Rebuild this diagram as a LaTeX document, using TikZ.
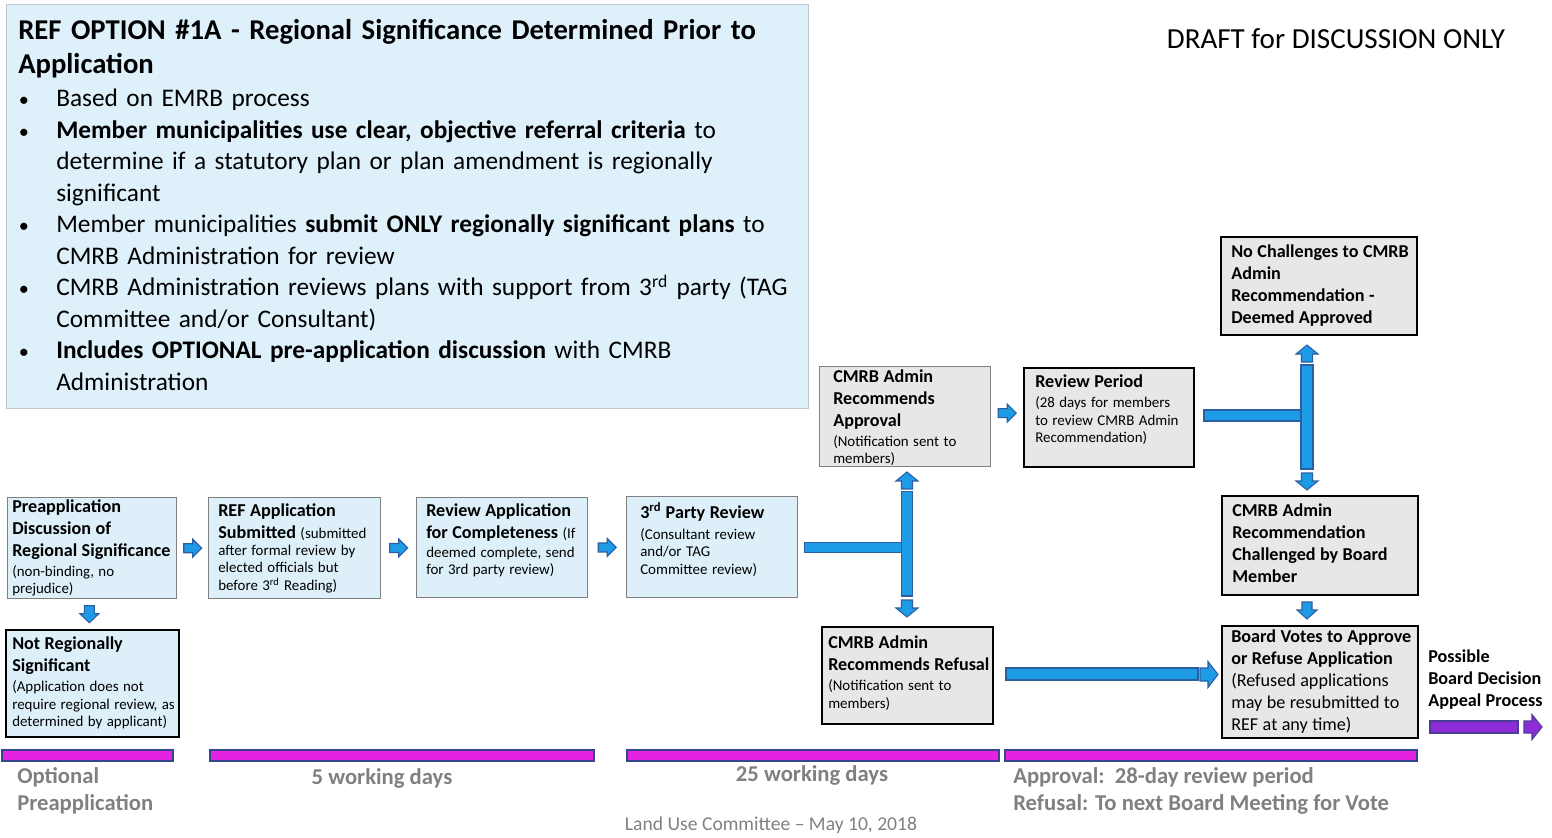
\documentclass[tikz,border=0pt]{standalone}
\usepackage{fontspec}
\setmainfont{Carlito}
\usetikzlibrary{calc}
\setlength{\parindent}{0pt}
\definecolor{boxblue}{RGB}{221,240,249}
\definecolor{topblue}{RGB}{222,241,250}
\definecolor{topline}{RGB}{190,200,205}
\definecolor{boxgray}{RGB}{231,231,231}
\definecolor{bordergray}{RGB}{128,128,128}
\definecolor{arrfill}{RGB}{30,155,230}
\definecolor{arrline}{RGB}{45,95,160}
\definecolor{purp}{RGB}{140,45,215}
\definecolor{purpline}{RGB}{75,60,150}
\definecolor{mag}{RGB}{228,35,225}
\definecolor{magline}{RGB}{55,70,140}
\definecolor{labgray}{RGB}{128,128,128}
\newcommand\boxbold{\fontsize{13.6pt}{16.5pt}\selectfont\bfseries}
\newcommand\boxsmall{\fontsize{11.2pt}{13.1pt}\selectfont\mdseries}
\newcommand\mkbox[5]{\node[#1, minimum width=#4*0.75pt, minimum height=#5*0.75pt] (#2) at (#3) {};}
\newcommand\barrow[7]{\draw[#1, shift={(#2)}, rotate=#3] ({-(#4)/2},{-(#6)/2}) -- ({(#4)/2-(#7)},{-(#6)/2}) -- ({(#4)/2-(#7)},{-(#5)/2}) -- ({(#4)/2},0) -- ({(#4)/2-(#7)},{(#5)/2}) -- ({(#4)/2-(#7)},{(#6)/2}) -- ({-(#4)/2},{(#6)/2}) -- cycle;}
\newcommand\bul{\hangindent=25.5pt\hangafter=1\makebox[25.5pt][l]{\hspace{-2.5pt}\scalebox{0.8}{\textbullet}}}
\begin{document}
\begin{tikzpicture}[x=0.75pt,y=-0.75pt,line join=miter,
  bluebox/.style={draw=bordergray, line width=1.1pt, fill=boxblue, anchor=north west, inner sep=0pt},
  bluebk/.style={draw=black, line width=1.5pt, fill=boxblue, anchor=north west, inner sep=0pt},
  graybox/.style={draw=bordergray, line width=1.1pt, fill=boxgray, anchor=north west, inner sep=0pt},
  graybk/.style={draw=black, line width=1.5pt, fill=boxgray, anchor=north west, inner sep=0pt},
  txt/.style={anchor=north west, inner sep=0pt, align=left, text width=180pt},
  blk/.style={fill=arrfill, draw=arrline, line width=0.8pt},
  pblk/.style={fill=purp, draw=purpline, line width=0.8pt},
  magbar/.style={fill=mag, draw=magline, line width=0.9pt},
  lab/.style={text=labgray, font={\fontsize{17pt}{20.25pt}\selectfont\bfseries}, inner sep=0pt, align=left}
]
\useasboundingbox (0,0) rectangle (1552,838);

% intro box
\node[draw=topline, line width=0.8pt, fill=topblue, anchor=north west, inner sep=0pt,
  minimum width=802*0.75pt, minimum height=404*0.75pt] (intro) at (6,4) {};
\node[anchor=north west, inner sep=0pt, text width=600pt, align=left,
  font={\fontsize{21.5pt}{25.5pt}\selectfont\bfseries}] (title) at (18,19)
  {REF OPTION \#1A - Regional Significance Determined Prior to\newline Application};
\node[anchor=north west, inner sep=0pt, text width=600pt, align=left,
  font={\fontsize{19pt}{23.6pt}\selectfont}] (bullets) at (22,89) {%
\bul Based on EMRB process\par
\bul\textbf{Member municipalities use clear, objective referral criteria} to\newline determine if a statutory plan or plan amendment is regionally\newline significant\par
\bul Member municipalities \textbf{submit ONLY regionally significant plans} to\newline CMRB Administration for review\par
\bul CMRB Administration reviews plans with support from 3\textsuperscript{rd} party (TAG\newline Committee and/or Consultant)\par
\bul\textbf{Includes OPTIONAL pre-application discussion} with CMRB\newline Administration\par};

\node[font={\fontsize{21.8pt}{26pt}\selectfont}, inner sep=0pt] (draft) at (1336,39) {DRAFT for DISCUSSION ONLY};

% boxes
\mkbox{bluebox}{pre}{7,497}{169}{101}
\mkbox{bluebk}{notreg}{5,629}{173}{107}
\mkbox{bluebox}{ref}{208,497}{172}{101}
\mkbox{bluebox}{rev}{416,497}{171}{100}
\mkbox{bluebox}{third}{626,496}{171}{101}
\mkbox{graybox}{appr}{819,366}{171}{100}
\mkbox{graybk}{period}{1023,367}{170}{99}
\mkbox{graybk}{nochal}{1220,236}{196}{98}
\mkbox{graybk}{chal}{1221,495}{196}{99}
\mkbox{graybk}{vote}{1221,625}{196}{112}
\mkbox{graybk}{refusal}{821,626}{171}{97}

% box texts
\node[txt] (preT) at ($(pre.north west)+(5,2)$) {{\boxbold Preapplication\\Discussion of\\Regional Significance\par}\vspace{1.9pt}{\boxsmall (non-binding, no\\prejudice)\par}};
\node[txt] (notregT) at ($(notreg.north west)+(7,8)$) {{\boxbold Not Regionally\\Significant\par}\vspace{1.9pt}{\boxsmall (Application does not\\require regional review, as\\determined by applicant)\par}};
\node[txt] (refT) at ($(ref.north west)+(10,6)$) {{\boxbold REF Application\par}\vspace{3.4pt}{\boxsmall{\boxbold Submitted} (submitted\\after formal review by\\elected officials but\\before 3\textsuperscript{rd} Reading)\par}};
\node[txt] (revT) at ($(rev.north west)+(10,6)$) {{\boxbold Review Application\par}\vspace{3.4pt}{\boxsmall{\boxbold for Completeness} (If\\[1.5pt]deemed complete, send\\for 3rd party review)\par}};
\node[txt] (thirdT) at ($(third.north west)+(14,6)$) {{\boxbold 3\textsuperscript{rd} Party Review\par}\vspace{2.6pt}{\boxsmall (Consultant review\\and/or TAG\\Committee review)\par}};
\node[txt] (apprT) at ($(appr.north west)+(14,4)$) {{\boxbold CMRB Admin\\Recommends\\Approval\par}\vspace{1.2pt}{\boxsmall (Notification sent to\\members)\par}};
\node[txt] (periodT) at ($(period.north west)+(12,8)$) {{\boxbold Review Period\par}\vspace{1.9pt}{\boxsmall (28 days for members\\to review CMRB Admin\\Recommendation)\par}};
\node[txt] (nochalT) at ($(nochal.north west)+(11,9)$) {{\boxbold No Challenges to CMRB\\Admin\\Recommendation -\\Deemed Approved\par}};
\node[txt] (chalT) at ($(chal.north west)+(11,9)$) {{\boxbold CMRB Admin\\Recommendation\\Challenged by Board\\Member\par}};
\node[txt] (voteT) at ($(vote.north west)+(10,5)$) {{\boxbold Board Votes to Approve\\or Refuse Application\\\mdseries (Refused applications\\may be resubmitted to\\REF at any time)\par}};
\node[txt] (refusalT) at ($(refusal.north west)+(7,10)$) {{\boxbold CMRB Admin\\Recommends Refusal\par}\vspace{1.9pt}{\boxsmall (Notification sent to\\members)\par}};
\node[txt] (appeal) at (1428,650) {{\boxbold Possible\\Board Decision\\Appeal Process\par}};

% small block arrows
\coordinate (a1) at ($(pre.east)!0.5!(ref.west)$);
\coordinate (a2) at ($(ref.east)!0.5!(rev.west)$);
\coordinate (a3) at ($(rev.east)!0.5!(third.west)$);
\coordinate (a4) at ($($(pre.south)!0.5!(notreg.north)$)+(-3,0)$);
\coordinate (a5) at ($($(appr.east)!0.5!(period.west)$)+(0,-4)$);
\barrow{blk}{a1}{0}{18}{18}{9}{9}
\barrow{blk}{a2}{0}{18}{18}{9}{9}
\barrow{blk}{a3}{0}{18}{18}{9}{9}
\barrow{blk}{a4}{-90}{17}{19}{10}{9}
\barrow{blk}{a5}{0}{18}{18}{9}{9}

% T connector 1
\coordinate (j1) at ($(third.east)+(108.5,0)$);
\filldraw[blk] ($(third.east)+(6,-5)$) rectangle ($(j1)+(-5,5)$);
\filldraw[blk] ($(j1 |- appr.south)+(-5.5,24)$) rectangle ($(j1 |- refusal.north)+(5.5,-30)$);
\coordinate (u1) at ($(j1 |- appr.south)+(0,13)$);
\coordinate (d1) at ($(j1 |- refusal.north)+(0,-17.5)$);
\barrow{blk}{u1}{90}{17}{22}{11}{9}
\barrow{blk}{d1}{-90}{17}{22}{11}{9}

% T connector 2
\coordinate (j2) at ($(period.east)+(112,-2)$);
\filldraw[blk] ($(period.east)+(9,-7.5)$) rectangle ($(j2)+(-6,5.5)$);
\filldraw[blk] ($(j2 |- nochal.south)+(-6,29)$) rectangle ($(j2 |- chal.north)+(6,-26)$);
\coordinate (u2) at ($(j2 |- nochal.south)+(0,17.5)$);
\coordinate (d2) at ($(j2 |- chal.north)+(0,-13.5)$);
\barrow{blk}{u2}{90}{17}{22}{11}{9}
\barrow{blk}{d2}{-90}{17}{22}{11}{9}
\coordinate (d3) at ($(j2 |- chal.south)!0.5!(j2 |- vote.north)$);
\barrow{blk}{d3}{-90}{17}{20}{10}{9}

% long arrow refusal -> vote
\filldraw[blk] ($(refusal.east)+(12,-7.5)$) rectangle ($(refusal.east -| vote.west)+(-23,4.5)$);
\coordinate (h1) at ($(refusal.east -| vote.west)+(-12,-1)$);
\barrow{blk}{h1}{0}{18}{26}{13}{10}

% purple appeal arrow
\filldraw[pblk] ($(vote.south east)+(11,-18)$) rectangle ($(vote.south east)+(99,-6)$);
\coordinate (h2) at ($(vote.south east)+(114,-12)$);
\barrow{pblk}{h2}{0}{18}{25}{12}{10}

% timeline bars
\filldraw[magbar] (2,750) rectangle (173,761);
\filldraw[magbar] (210,750) rectangle (594,761);
\filldraw[magbar] (627,750) rectangle (999,761);
\filldraw[magbar] (1005,750) rectangle (1417,761);

% timeline labels
\node[lab, anchor=north west] (optl) at (17,767) {Optional\\Preapplication};
\node[lab, anchor=north] (fivel) at (382,768) {5 working days};
\node[lab, anchor=north] (twfl) at (812,765) {25 working days};
\node[lab, anchor=north west] (appl) at (1013,767) {Approval:\ \ 28-day review period\\Refusal: To next Board Meeting for Vote};
\node[text=labgray, font={\fontsize{14.7pt}{17pt}\selectfont}, anchor=north, inner sep=0pt] (foot) at (771,817) {Land Use Committee – May 10, 2018};
\end{tikzpicture}
\end{document}
